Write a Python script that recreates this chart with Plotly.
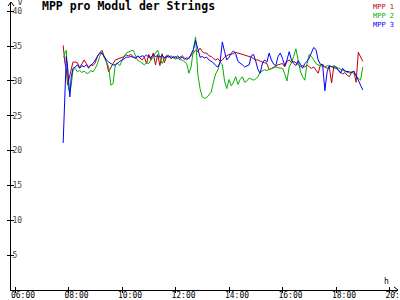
import plotly.graph_objects as go

times = ["07:48","07:50","07:52","07:55","07:58","08:00","08:03","08:06","08:10",
         "08:15","08:20","08:25","08:30","08:35","08:40","08:45","08:50","08:55","09:00",
         "09:05","09:10","09:15","09:20","09:25","09:30","09:35","09:40","09:45","09:50","09:55","10:00",
         "10:05","10:10","10:15","10:20","10:25","10:30","10:35","10:40","10:45","10:50","10:55","11:00",
         "11:05","11:10","11:15","11:20","11:25","11:30","11:35","11:40","11:45","11:50","11:55","12:00",
         "12:05","12:10","12:15","12:20","12:25","12:30","12:35","12:40","12:45","12:50","12:55","13:00",
         "13:05","13:10","13:15","13:20","13:25","13:30","13:35","13:40","13:45","13:50","13:55","14:00",
         "14:05","14:10","14:15","14:20","14:25","14:30","14:35","14:40","14:45","14:50","14:55","15:00",
         "15:05","15:10","15:15","15:20","15:25","15:30","15:35","15:40","15:45","15:50","15:55","16:00",
         "16:05","16:10","16:15","16:20","16:25","16:30","16:35","16:40","16:45","16:50","16:55","17:00",
         "17:05","17:10","17:15","17:20","17:25","17:30","17:35","17:40","17:45","17:50","17:55","18:00",
         "18:05","18:10","18:15","18:20","18:25","18:30","18:35","18:40","18:45","18:50","18:55","19:00"]

mpp1 = [35.1,33.3,32.5,31.8,29.4,30.0,30.8,32.0,32.7,
        32.7,32.6,31.9,32.4,33.0,32.5,31.8,32.3,32.2,32.6,
        33.6,34.0,34.4,33.5,32.8,31.3,32.0,32.5,33.0,33.1,33.2,33.4,
        33.5,33.7,33.6,33.8,33.5,33.2,33.6,33.3,33.0,33.4,32.5,33.8,
        33.0,34.0,32.3,33.8,32.2,33.9,32.6,33.5,33.4,33.6,33.3,33.5,
        33.2,33.4,33.6,33.3,33.0,33.3,33.6,34.0,34.4,34.2,34.7,34.2,
        34.0,34.0,33.6,33.5,33.2,33.0,33.2,32.8,33.0,33.4,33.6,33.8,
        33.8,34.0,34.1,34.0,33.9,33.8,33.7,33.7,33.6,33.4,33.2,33.0,
        33.0,32.8,32.7,32.6,32.5,31.6,31.8,32.0,32.2,32.3,32.4,32.5,
        32.0,32.8,33.0,32.6,32.8,32.6,32.4,32.0,32.2,32.0,32.3,32.0,
        31.8,32.0,31.6,31.1,32.3,32.4,32.0,31.8,32.0,29.7,32.1,32.0,
        31.5,31.2,31.0,31.2,30.8,30.6,31.2,31.4,29.8,34.1,33.4,32.8]

mpp2 = [33.5,33.4,34.0,34.4,30.8,28.8,28.3,29.4,31.5,
        31.8,31.3,31.5,31.2,31.4,31.1,31.1,31.5,31.3,31.8,
        32.5,33.5,34.1,33.4,32.8,32.0,29.4,29.6,32.4,32.5,32.2,33.0,
        33.6,34.0,34.2,34.3,34.4,33.5,32.9,32.8,32.5,32.3,32.6,32.5,
        33.0,33.4,34.0,34.4,33.4,32.5,33.2,33.7,33.6,33.2,33.4,33.1,
        33.3,33.0,33.0,32.8,32.5,31.1,32.0,34.5,36.3,31.0,28.9,27.7,
        27.5,27.6,28.0,28.4,29.8,31.0,31.6,32.7,32.3,30.0,28.9,30.2,
        29.3,29.8,30.6,29.5,30.2,30.6,29.8,30.0,30.4,30.2,30.1,30.3,
        30.6,31.3,31.4,31.6,31.5,31.6,31.7,31.8,32.0,31.9,31.8,31.8,
        31.0,30.0,32.0,32.6,33.5,34.6,33.0,31.4,30.6,30.1,32.5,33.8,
        33.5,33.0,32.5,32.3,32.2,32.1,32.0,32.2,32.1,32.0,32.2,32.0,
        31.8,31.6,31.5,31.4,31.3,31.1,31.3,31.0,30.8,30.4,30.1,32.0]

mpp3 = [21.1,25.0,29.4,33.5,32.0,30.0,27.7,30.5,31.8,
        32.0,32.3,31.8,32.2,32.0,32.3,32.0,32.2,32.5,33.0,
        33.5,34.0,34.0,33.5,33.0,32.7,32.5,32.3,32.3,32.6,32.8,33.0,
        33.2,33.4,33.4,33.5,33.4,33.3,33.5,33.4,33.6,33.5,33.7,33.4,
        33.4,33.7,33.5,33.6,33.4,33.7,33.3,33.5,33.6,33.2,33.5,33.3,
        33.6,33.2,33.4,33.1,33.3,33.2,33.8,34.5,35.8,34.6,33.4,33.5,
        33.3,33.4,33.0,32.8,32.6,32.2,32.0,32.7,35.6,34.2,33.0,33.4,
        34.0,34.3,33.9,32.8,32.6,32.3,32.0,32.1,32.3,33.6,33.8,32.8,
        31.6,31.1,32.6,33.0,32.7,34.0,33.0,32.4,32.2,33.5,34.0,33.2,
        32.2,33.0,34.2,33.0,32.5,32.2,32.9,32.4,31.8,32.5,32.8,33.3,
        34.2,34.8,34.5,33.0,32.4,32.3,28.6,31.3,32.2,32.0,31.9,31.8,
        31.6,31.1,31.8,31.4,31.4,31.3,31.2,31.4,30.8,30.0,29.4,28.7]

series_names = ["MPP 1", "MPP 2", "MPP 3"]
series_colors = ["#c00000", "#00b000", "#0000ff"]
y_ticks = [5, 10, 15, 20, 25, 30, 35, 40]

day = "2024-01-01 "
xs = [day + t for t in times]
FONT = "DejaVu Sans Mono"

fig = go.Figure()
for name, vals, col in zip(series_names, [mpp1, mpp2, mpp3], series_colors):
    fig.add_trace(go.Scatter(x=xs, y=vals, mode="lines", name=name,
                             line=dict(color=col, width=1), showlegend=False))
# dummy trace so the overlay axes (crossing tick halves) are drawn
fig.add_trace(go.Scatter(x=[None], y=[None], xaxis="x2", yaxis="y2",
                         showlegend=False, hoverinfo="skip"))

xrange = [day + "05:51", day + "20:19"]
yrange = [0, 41.32]

common_x = dict(type="date", range=xrange, tick0=day + "06:00", dtick=7200000,
                showgrid=False, zeroline=False, automargin=False)
common_y = dict(range=yrange, tickvals=y_ticks, showgrid=False, zeroline=False,
                automargin=False)

fig.update_layout(
    width=400, height=300,
    margin=dict(l=11, r=2, t=2, b=10, autoexpand=False),
    paper_bgcolor="white", plot_bgcolor="white",
    font=dict(family=FONT, size=8, color="black"),
    xaxis=dict(**common_x, showline=True, linecolor="black", linewidth=1,
               ticks="outside", ticklen=2, tickcolor="black",
               tickformat="%H:%M", ticklabelshift=8, ticklabelstandoff=-5,
               ticklabeloverflow="allow", tickfont=dict(family=FONT, size=8)),
    yaxis=dict(**common_y, showline=True, linecolor="black", linewidth=1,
               ticks="outside", ticklen=3, tickcolor="black",
               ticklabelposition="inside", ticklabeloverflow="allow",
               tickfont=dict(family=FONT, size=8)),
    xaxis2=dict(**common_x, overlaying="x", anchor="y2", showticklabels=False,
                ticks="inside", ticklen=3, tickcolor="black", showline=False),
    yaxis2=dict(**common_y, overlaying="y", anchor="x2", side="left", showticklabels=False,
                ticks="inside", ticklen=3, tickcolor="black", showline=False),
)

# title
fig.add_annotation(text="<b>MPP pro Modul der Strings</b>", xref="paper", yref="paper",
                   x=0.075, y=0.986, xanchor="left", yanchor="middle", showarrow=False,
                   font=dict(family=FONT, size=11.5, color="black"))
# legend (one text block, one colour per line)
legend_text = "<br>".join(f'<span style="color:{c}">{n}</span>'
                          for n, c in zip(series_names, series_colors))
fig.add_annotation(text=legend_text, xref="paper", yref="paper",
                   x=0.991, y=1.0, xanchor="right", yanchor="top", align="right",
                   showarrow=False, borderpad=0, font=dict(family=FONT, size=7))
# unit labels
fig.add_annotation(text="V", xref="paper", yref="paper", x=0.012, y=0.997,
                   xanchor="left", yanchor="middle", showarrow=False,
                   font=dict(family=FONT, size=7, color="black"))
fig.add_annotation(text="h", xref="paper", yref="paper", x=0.97, y=0.03,
                   xanchor="center", yanchor="middle", showarrow=False,
                   font=dict(family=FONT, size=8, color="black"))
# axis arrows
fig.add_shape(type="path", xref="paper", yref="paper", xsizemode="pixel", ysizemode="pixel",
              xanchor=1, yanchor=0, path="M-4,3 L0,0 L-4,-3", line=dict(color="black", width=1))
fig.add_shape(type="path", xref="paper", yref="paper", xsizemode="pixel", ysizemode="pixel",
              xanchor=0, yanchor=1, path="M-3,-4 L0,0 L3,-4", line=dict(color="black", width=1))

post = ("var d=document.getElementById('{plot_id}');d.style.overflow='hidden';"
        "document.body.style.overflow='hidden';document.documentElement.style.overflow='hidden';"
        "document.body.style.margin='0';")
fig.write_html("out.html", post_script=post)
